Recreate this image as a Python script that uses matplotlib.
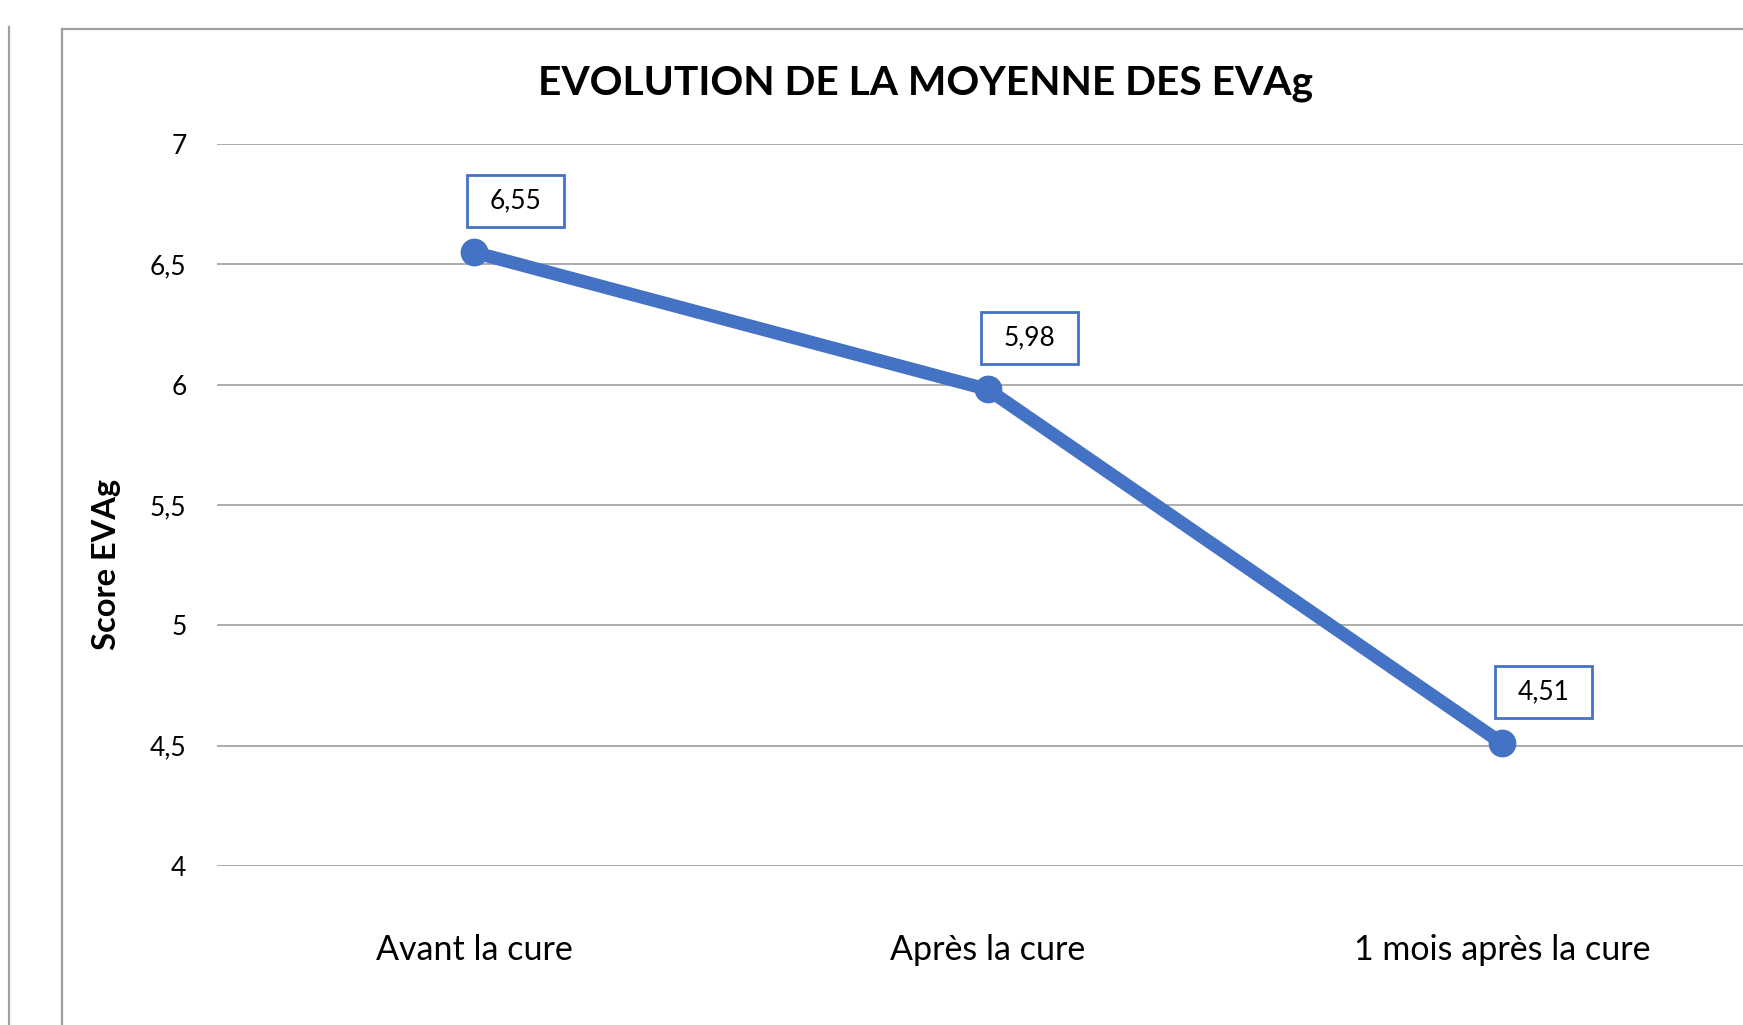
import matplotlib.pyplot as plt
from matplotlib.lines import Line2D
from matplotlib.path import Path

plt.rcParams['font.family'] = ['Lato', 'DejaVu Sans']

categories = ['Avant la cure', 'Après la cure', '1 mois après la cure']
scores = [6.55, 5.98, 4.51]
labels = ['6,55', '5,98', '4,51']
yticks = [4, 4.5, 5, 5.5, 6, 6.5, 7]
ytick_labels = ['4', '4,5', '5', '5,5', '6', '6,5', '7']

blue = '#4472C4'
W, H = 1743, 1025


def wide_box(x0, y0, width, height, mutation_size):
    # Excel-like data label frame: more room left/right than top/bottom
    px, py = 0.85 * mutation_size, 0.52 * mutation_size
    x0, x1 = x0 - px, x0 + width + px
    y0, y1 = y0 - py, y0 + height + py
    return Path([(x0, y0), (x1, y0), (x1, y1), (x0, y1), (x0, y0)], closed=True)


fig = plt.figure(figsize=(W / 100, H / 100), dpi=100)
ax = fig.add_axes([217 / W, (H - 866) / H, 1542 / W, 722 / H])

x = range(len(categories))
ax.plot(x, scores, color=blue, lw=9.5, marker='o', markersize=19,
        solid_capstyle='round', zorder=3)

for xi, yi, lab in zip(x, scores, labels):
    ax.annotate(lab, (xi, yi), xytext=(30, 37), textcoords='offset points',
                ha='center', va='center', fontsize=19,
                bbox=dict(boxstyle=wide_box, fc='white', ec=blue, lw=2))

ax.set_xlim(-0.5, 2.5)
ax.set_ylim(4, 7)
ax.set_yticks(yticks)
ax.set_yticklabels(ytick_labels)
ax.set_xticks(list(x))
ax.set_xticklabels(categories)
ax.tick_params(axis='y', length=0, pad=22, labelsize=19)
ax.tick_params(axis='x', length=0, pad=49, labelsize=24.5)
ax.grid(axis='y', color='#a6a6a6', lw=1.3)
ax.set_axisbelow(True)
for s in ax.spines.values():
    s.set_visible(False)

ax.set_ylabel('Score EVAg', fontsize=23.5, fontweight='bold')
ax.yaxis.set_label_coords(-0.062, 0.417)

fig.text(926 / W, 1 - 84 / H, 'EVOLUTION DE LA MOYENNE DES EVAg',
         ha='center', va='center', fontsize=29.3, fontweight='bold')

# frames of the spreadsheet chart area
fig.add_artist(Line2D([62 / W, 62 / W], [0, 1 - 29 / H], color='#a0a0a0', lw=1.6))
fig.add_artist(Line2D([62 / W, 1], [1 - 29 / H, 1 - 29 / H], color='#a0a0a0', lw=1.6))
fig.add_artist(Line2D([9 / W, 9 / W], [0, 1 - 27 / H], color='#a0a0a0', lw=1.6))

fig.savefig('out.png', dpi=100)
